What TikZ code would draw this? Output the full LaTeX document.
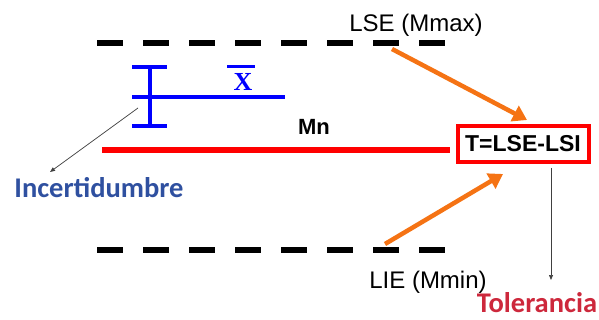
\documentclass[tikz,border=0pt]{standalone}
\usepackage{fontspec}
\setmainfont{Liberation Sans}
\newfontfamily\calib{Carlito}
\newfontfamily\tms{Liberation Serif}
\usetikzlibrary{arrows.meta}
\definecolor{orng}{RGB}{245,115,20}
\definecolor{incblue}{RGB}{47,80,160}
\definecolor{tolred}{RGB}{205,40,60}
\tikzset{
  limline/.style={line width=6pt, dash pattern=on 26pt off 20pt},
  orarrow/.style={orng, line width=4.5pt, -{Triangle[length=14pt,width=17pt]}},
  thinarrow/.style={black!75, line width=0.7pt, -{Triangle[length=5pt,width=4pt]}},
  bluebar/.style={blue, line width=4pt},
  lbl/.style={inner sep=0pt, font=\fontsize{24}{28}\selectfont},
  biglbl/.style={inner sep=0pt, font=\calib\bfseries\fontsize{28.5}{32}\selectfont}
}
\begin{document}
\begin{tikzpicture}[x=1pt,y=-1pt]
\useasboundingbox (0,0) rectangle (599,320);
% limit lines
\coordinate (ts) at (97,43); \coordinate (te) at (447,43);
\coordinate (bs) at (97,250); \coordinate (be) at (451,250);
\draw[limline] (ts) -- (te);
\draw[limline] (bs) -- (be);
% labels
\node[lbl] (lse) at (416,25) {LSE (Mmax)};
\node[lbl] (lie) at (428,282) {LIE (Mmin)};
\node[lbl, font=\bfseries\fontsize{22}{26}\selectfont] (mn) at (314,127) {Mn};
% tolerance box
\node[draw=red, line width=4pt, fill=white, minimum width=131pt, minimum height=36pt, inner sep=0pt,
      font=\bfseries\fontsize{23}{27}\selectfont] (tbox) at (523,144) {T=LSE-LSI};
% nominal line
\coordinate (mns) at (102,150);
\draw[red, line width=6.5pt] (mns) -- ([xshift=-6pt]mns -| tbox.west);
% orange arrows
\coordinate (up1) at (392,49); \coordinate (up2) at (527,120);
\coordinate (lo1) at (385,244); \coordinate (lo2) at (503,174);
\draw[orarrow] (up1) -- (up2);
\draw[orarrow] (lo1) -- (lo2);
% uncertainty bar
\coordinate (vt) at (150,67); \coordinate (vb) at (150,126);
\coordinate (ctl) at (132,67); \coordinate (ctr) at (167,67);
\coordinate (cbl) at (132,126); \coordinate (cbr) at (167,126);
\coordinate (ml) at (132,97); \coordinate (mr) at (285,97);
\draw[bluebar] (vt) -- (vb);
\draw[bluebar] (ctl) -- (ctr);
\draw[bluebar] (cbl) -- (cbr);
\draw[bluebar] (ml) -- (mr);
\node[inner sep=0pt, text=blue, font=\tms\bfseries\fontsize{26}{28}\selectfont] (xb) at (243,82) {X};
\draw[blue, line width=3pt] (227,67) coordinate (xbl) -- (255,67) coordinate (xbr);
% big labels
\node[biglbl, text=incblue] (inc) at (99,188) {Incertidumbre};
\node[biglbl, text=tolred] (tol) at (537,303) {Tolerancia};
\coordinate (ia) at (138,108); \coordinate (ib) at (50,172);
\draw[thinarrow] (ia) -- (ib);
\coordinate (ta) at (551,168); \coordinate (tb) at (551,280);
\draw[thinarrow] (ta) -- (tb);
\end{tikzpicture}
\end{document}
